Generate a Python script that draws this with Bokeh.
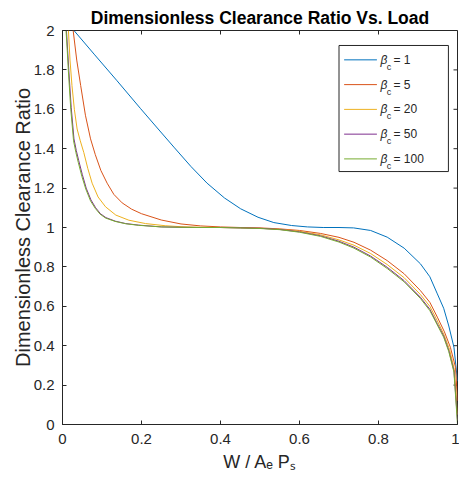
from bokeh.plotting import figure
from bokeh.models import Range1d, CustomJSTickFormatter, FixedTicker
from bokeh.core.properties import value
from bokeh.embed import file_html
from bokeh.resources import INLINE

# ---------------- data ----------------
beta_labels = ["1", "5", "20", "50", "100"]
colors = ["#0072BD", "#D95319", "#EDB120", "#7E2F8E", "#77AC30"]

x_beta1 = [0.029, 0.08, 0.138, 0.197, 0.24, 0.282, 0.325, 0.366, 0.41, 0.451, 0.495, 0.535,
           0.58, 0.62, 0.66, 0.70, 0.737, 0.78, 0.822, 0.865, 0.906, 0.93, 0.949, 0.965,
           0.978, 0.991, 1.0]
y_beta1 = [2.0, 1.88, 1.745, 1.605, 1.505, 1.408, 1.31, 1.225, 1.15, 1.095, 1.052, 1.025,
           1.01, 1.003, 1.0, 1.0, 0.998, 0.985, 0.951, 0.895, 0.816, 0.75, 0.663, 0.59,
           0.5, 0.392, 0.22]

x_beta5 = [0.027, 0.036, 0.046, 0.058, 0.071, 0.083, 0.097, 0.113, 0.13, 0.151, 0.175, 0.2,
           0.25, 0.3, 0.35, 0.4, 0.45, 0.5, 0.55, 0.6, 0.653, 0.7, 0.738, 0.78, 0.822, 0.865,
           0.906, 0.93, 0.949, 0.967, 0.982, 0.995, 1.0]
y_beta5 = [2.0, 1.85, 1.721, 1.57, 1.45, 1.37, 1.29, 1.225, 1.168, 1.125, 1.093, 1.07,
           1.038, 1.018, 1.008, 1.003, 1.0, 0.998, 0.993, 0.985, 0.97, 0.95, 0.925, 0.885,
           0.832, 0.765, 0.68, 0.62, 0.545, 0.47, 0.392, 0.29, 0.12]

x_beta20 = [0.015, 0.019, 0.024, 0.03, 0.037, 0.045, 0.054, 0.064, 0.075, 0.09, 0.109, 0.135,
            0.168, 0.21, 0.26, 0.3, 0.35, 0.4, 0.45, 0.5, 0.55, 0.6, 0.653, 0.7, 0.738, 0.78,
            0.822, 0.865, 0.906, 0.93, 0.949, 0.966, 0.98, 0.992, 1.0]
y_beta20 = [2.0, 1.85, 1.72, 1.6, 1.5, 1.44, 1.38, 1.3, 1.225, 1.155, 1.105, 1.063,
            1.037, 1.02, 1.009, 1.004, 1.001, 1.0, 0.998, 0.996, 0.991, 0.981, 0.963, 0.937,
            0.91, 0.868, 0.812, 0.745, 0.66, 0.6, 0.526, 0.455, 0.38, 0.28, 0.05]

x_beta50 = [0.01, 0.013, 0.016, 0.022, 0.029, 0.035, 0.041, 0.05, 0.06, 0.072, 0.084, 0.096,
            0.11, 0.134, 0.16, 0.193, 0.25, 0.3, 0.35, 0.4, 0.45, 0.5, 0.55, 0.6, 0.653, 0.7,
            0.738, 0.78, 0.822, 0.865, 0.906, 0.93, 0.949, 0.965, 0.978, 0.991, 1.0]
y_beta50 = [2.0, 1.9, 1.797, 1.61, 1.45, 1.39, 1.34, 1.27, 1.2, 1.14, 1.1, 1.07,
            1.05, 1.032, 1.02, 1.012, 1.003, 1.001, 1.0, 1.0, 0.998, 0.996, 0.99, 0.978,
            0.958, 0.93, 0.9, 0.855, 0.798, 0.73, 0.646, 0.585, 0.511, 0.45, 0.376, 0.274, 0.02]

x_beta100 = [0.009, 0.012, 0.015, 0.021, 0.028, 0.034, 0.04, 0.049, 0.059, 0.071, 0.083, 0.095,
             0.109, 0.133, 0.16, 0.193, 0.25, 0.3, 0.35, 0.4, 0.45, 0.5, 0.55, 0.6, 0.653, 0.7,
             0.738, 0.78, 0.822, 0.865, 0.906, 0.93, 0.949, 0.965, 0.978, 0.991, 1.0]
y_beta100 = [2.0, 1.9, 1.79, 1.6, 1.44, 1.38, 1.33, 1.26, 1.195, 1.135, 1.097, 1.068,
             1.048, 1.031, 1.019, 1.011, 1.003, 1.001, 1.0, 1.0, 0.998, 0.995, 0.989, 0.976,
             0.955, 0.926, 0.895, 0.85, 0.792, 0.724, 0.64, 0.578, 0.505, 0.443, 0.37, 0.266, 0.0]

x_ticks = [0, 0.2, 0.4, 0.6, 0.8, 1.0]
y_ticks = [0, 0.2, 0.4, 0.6, 0.8, 1.0, 1.2, 1.4, 1.6, 1.8, 2.0]

series_x = [x_beta1, x_beta5, x_beta20, x_beta50, x_beta100]
series_y = [y_beta1, y_beta5, y_beta20, y_beta50, y_beta100]

# ---------------- styling ----------------
FONT = "Liberation Sans"
AX = "#262626"
X0, X1, Y0, Y1 = 0.0, 1.0, 0.0, 2.0

p = figure(width=459, height=481, x_range=Range1d(X0, X1), y_range=Range1d(Y0, Y1),
           output_backend="svg", toolbar_location=None,
           min_border_left=62, min_border_right=2, min_border_top=30, min_border_bottom=57,
           background_fill_color="white", border_fill_color="white")
p.outline_line_color = AX
p.outline_line_width = 1
p.grid.visible = False

p.title.text = "Dimensionless Clearance Ratio Vs. Load"
p.title.align = "center"
p.title.text_font = FONT
p.title.text_font_size = "17.5px"
p.title.text_font_style = "bold"
p.title.text_color = "#000000"
p.title.standoff = 5

fmt = CustomJSTickFormatter(code="return String(Math.round(tick*10)/10);")

for ax, ticks in ((p.xaxis[0], x_ticks), (p.yaxis[0], y_ticks)):
    ax.ticker = FixedTicker(ticks=ticks)
    ax.formatter = fmt
    ax.major_tick_in = 4
    ax.major_tick_out = 0
    ax.minor_tick_in = 0
    ax.minor_tick_out = 0
    ax.axis_line_color = AX
    ax.major_tick_line_color = AX
    ax.major_label_text_font = FONT
    ax.major_label_text_font_size = "15px"
    ax.major_label_text_color = AX
    ax.axis_label_text_font = FONT
    ax.axis_label_text_font_style = "normal"
    ax.axis_label_text_color = AX

p.xaxis.axis_label = "W / A\u2091 P\u209b"
p.xaxis.axis_label_text_font_size = "18px"
p.xaxis.major_label_standoff = 9
p.xaxis.axis_label_standoff = 5
p.yaxis.axis_label = "Dimensionless Clearance Ratio"
p.yaxis.axis_label_text_font_size = "20px"
p.yaxis.major_label_standoff = 8
p.yaxis.axis_label_standoff = -3

# mirrored inward ticks on the top and right edges (MATLAB "box on")
tick_dx = (X1 - X0) * 4 / 395
tick_dy = (Y1 - Y0) * 4 / 394
p.segment(x0=[X1 - tick_dx] * len(y_ticks), x1=[X1] * len(y_ticks), y0=y_ticks, y1=y_ticks,
          line_color=AX, line_width=1)
p.segment(x0=x_ticks, x1=x_ticks, y0=[Y1 - tick_dy] * len(x_ticks), y1=[Y1] * len(x_ticks),
          line_color=AX, line_width=1)

for xs, ys, c in zip(series_x, series_y, colors):
    p.line(xs, ys, line_color=c, line_width=1)

# ---------------- legend (drawn by hand, MATLAB style) ----------------
leg_left, leg_right, leg_top, leg_bottom = 0.700, 0.977, 1.924, 1.284
p.quad(left=[leg_left], right=[leg_right], top=[leg_top], bottom=[leg_bottom],
       fill_color="white", line_color=AX, line_width=1)
row_y = [1.851 - 0.1257 * i for i in range(len(beta_labels))]
p.segment(x0=[0.713] * 5, x1=[0.796] * 5, y0=row_y, y1=row_y, line_color=colors, line_width=1)
p.text(x=[0.805] * 5, y=row_y, text=["\u03b2"] * 5, text_font=value(FONT),
       text_font_style="italic", text_font_size="12px", text_baseline="middle",
       text_color=AX)
p.text(x=[0.821] * 5, y=[yy - 0.036 for yy in row_y], text=["c"] * 5, text_font=value(FONT),
       text_font_size="9px", text_baseline="middle", text_color=AX)
p.text(x=[0.838] * 5, y=row_y, text=["= " + b for b in beta_labels], text_font=value(FONT),
       text_font_size="12px", text_baseline="middle", text_color=AX)

open("out.html", "w").write(file_html(p, INLINE))
